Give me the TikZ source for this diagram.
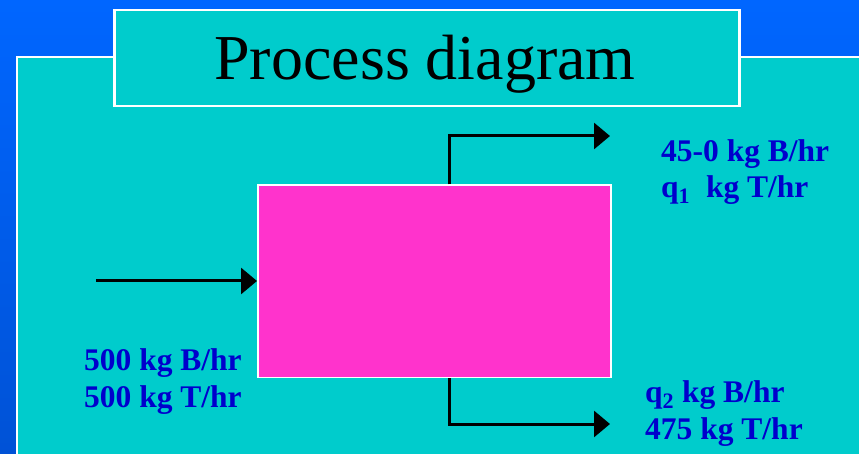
\documentclass[tikz,border=0pt]{standalone}
\usepackage{fontspec}
\setmainfont{Liberation Serif}
\usetikzlibrary{arrows.meta}
\definecolor{bgtop}{HTML}{0066FF}
\definecolor{bgbot}{HTML}{0052D6}
\definecolor{panel}{HTML}{00CCCC}
\definecolor{unitbox}{HTML}{FF33CC}
\definecolor{labelblue}{HTML}{0000CC}
\tikzset{
  flow/.style={line width=3pt, -{Triangle[length=16pt,width=26pt]}},
  lbl/.style={anchor=base west, inner sep=0pt, text=labelblue,
    font=\fontsize{31.5}{37}\selectfont\bfseries},
}
\begin{document}
\begin{tikzpicture}[x=1pt,y=-1pt]
\useasboundingbox (0,0) rectangle (859,454);
\shade[top color=bgtop, bottom color=bgbot] (0,0) rectangle (859,454);
% main panel
\fill[panel] (17,57) rectangle (870,470);
\draw[white, line width=2.5pt] (17,470) -- (17,57) -- (870,57);
% title box
\node[draw=white, line width=2.5pt, fill=panel, minimum width=625pt, minimum height=96pt,
  inner sep=0pt, anchor=north west] (title) at (113,9) {};
\node[inner sep=0pt, anchor=base, font=\fontsize{64}{70}\selectfont] (titletext) at (425,80) {Process diagram};
% process unit
\node[draw=white, line width=1.5pt, fill=unitbox, minimum width=353pt, minimum height=192pt,
  inner sep=0pt, anchor=north west] (unit) at (257,184.5) {};
% connectors
\coordinate (feed) at (96,281);
\coordinate (topout) at (610,136);
\coordinate (botout) at (610,424);
\draw[flow] (feed) -- (feed -| unit.west);
\draw[flow] (unit.north -| 449,0) |- (topout);
\draw[flow] (unit.south -| 449,0) |- (botout);
% labels
\node[lbl] (f1) at (84,370) {500 kg B/hr};
\node[lbl] (f2) at (84,407) {500 kg T/hr};
\node[lbl] (t1) at (661,162) {45-0 kg B/hr};
\node[lbl] (t2) at (661,198) {q\textsubscript{1}\ \ kg T/hr};
\node[lbl] (b1) at (645,402) {q\textsubscript{2} kg B/hr};
\node[lbl] (b2) at (645,439) {475 kg T/hr};
\end{tikzpicture}
\end{document}
